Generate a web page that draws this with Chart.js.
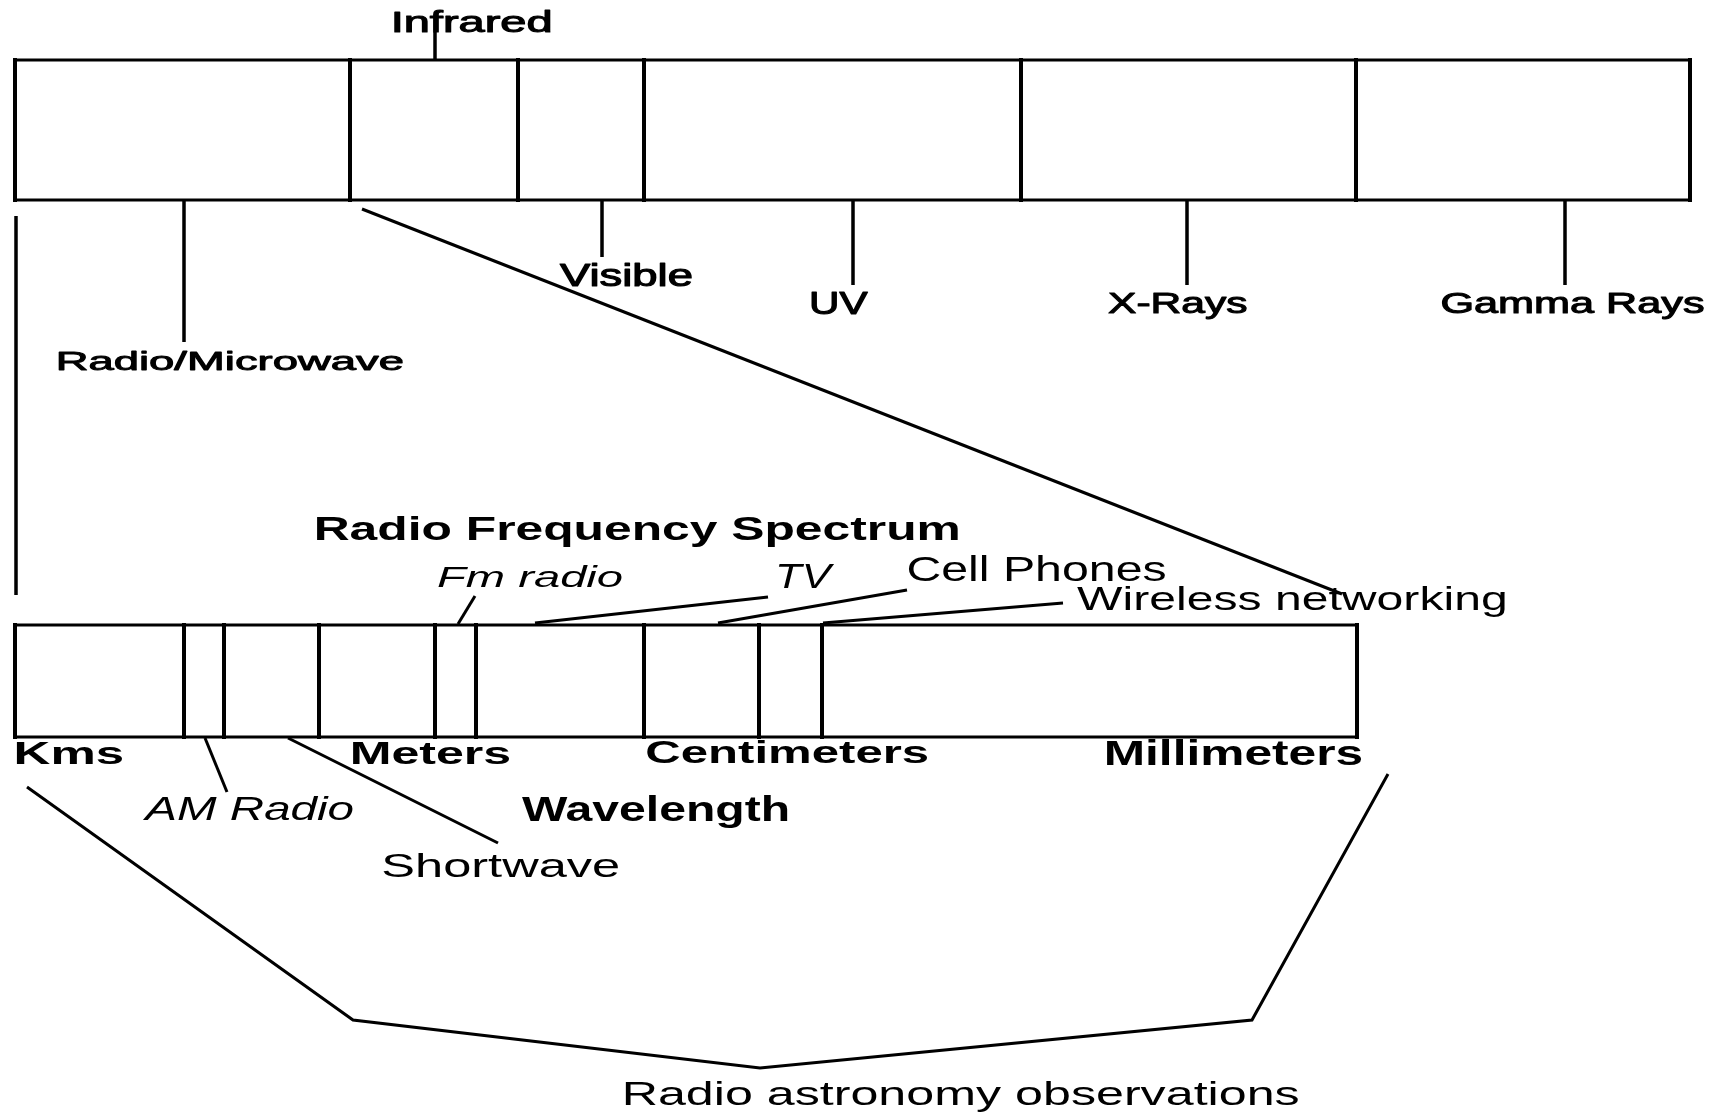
<!DOCTYPE html>
<html>
<head>
<meta charset="utf-8">
<script src="https://cdn.jsdelivr.net/npm/chart.js@4"></script>
<style>
html,body{margin:0;padding:0;background:#fff;}
#wrap{width:1718px;height:1118px;}
</style>
</head>
<body>
<div id="wrap"><canvas id="c" width="1718" height="1118"></canvas></div>
<script>
// ---------------- data (diagram units on a 1718 x 1118 plane) ----------------
// Electromagnetic spectrum bar
const emBands      = ['Radio/Microwave', 'Infrared', 'Visible', 'UV', 'X-Rays', 'Gamma Rays'];
const emEdges      = [15, 350, 518, 644, 1021, 1356, 1690];
const emBar        = [60, 200];                     // top, bottom of the bar
const emLeaderX    = [184, 435, 602, 853, 1187, 1565];
const emLeaderEnd  = [342, 32, 257, 285, 285, 285];

// Radio frequency spectrum bar
const radioEdges   = [15, 184, 224, 319, 435, 476, 644, 759, 822, 1357];
const radioBar     = [625, 737];
const wavelengthUnits = ['Kms', 'Meters', 'Centimeters', 'Millimeters'];
const radioUses       = ['AM Radio', 'Shortwave', 'Fm radio', 'TV', 'Cell Phones', 'Wireless networking'];
const radioUseBandX   = [205, 288, 458, 535, 718, 823];
const radioUseBandY   = [738, 738, 624, 623, 623, 623];
const radioUseLabelX  = [227, 498, 475, 768, 907, 1063];
const radioUseLabelY  = [792, 843, 596, 597, 590, 603];

// zoom-out connectors and the radio astronomy bracket
const zoomDiagX  = [362, 1342];
const zoomDiagY  = [209, 594];
const zoomLeftX  = [16, 16];
const zoomLeftY  = [216, 595];
const observeX   = [27, 353, 760, 1252, 1388];
const observeY   = [787, 1020, 1068, 1020, 774];

const titles = ['Radio Frequency Spectrum', 'Wavelength', 'Radio astronomy observations'];

// ---------------- text layout (ink box: left, right, cap top, baseline) ----------------
const labelLayout = [
  {text: emBands[1], l: 394,  r: 550,  top: 12,   base: 32,   style: 'med'},
  {text: emBands[2], l: 560,  r: 692,  top: 265,  base: 286,  style: 'med'},
  {text: emBands[3], l: 812,  r: 868,  top: 293,  base: 314,  style: 'med'},
  {text: emBands[4], l: 1108, r: 1246, top: 293,  base: 313,  style: 'med'},
  {text: emBands[5], l: 1442, r: 1703, top: 293,  base: 313,  style: 'med'},
  {text: emBands[0], l: 59,   r: 403,  top: 352,  base: 370,  style: 'med'},
  {text: titles[0],  l: 317,  r: 958,  top: 518,  base: 540,  style: 'bold'},
  {text: radioUses[2], l: 437, r: 622, top: 567,  base: 587,  style: 'ital'},
  {text: radioUses[3], l: 778, r: 835, top: 565,  base: 588,  style: 'ital'},
  {text: radioUses[4], l: 908, r: 1165, top: 558, base: 581,  style: 'reg'},
  {text: radioUses[5], l: 1077, r: 1505, top: 588, base: 610, style: 'reg'},
  {text: wavelengthUnits[0], l: 17,   r: 123,  top: 743, base: 764, style: 'bold'},
  {text: wavelengthUnits[1], l: 353,  r: 510,  top: 743, base: 764, style: 'bold'},
  {text: wavelengthUnits[2], l: 647,  r: 928,  top: 742, base: 763, style: 'bold'},
  {text: wavelengthUnits[3], l: 1107, r: 1362, top: 742, base: 765, style: 'bold'},
  {text: radioUses[0], l: 142, r: 353, top: 798, base: 820, style: 'ital'},
  {text: titles[1],  l: 522,  r: 788,  top: 798,  base: 821,  style: 'bold'},
  {text: radioUses[1], l: 383, r: 619, top: 855, base: 877, style: 'reg'},
  {text: titles[2],  l: 625,  r: 1298, top: 1083, base: 1105, style: 'reg'}
];

const textStyles = {
  med:  {font: '28px "Liberation Sans", Arial, sans-serif', stroke: 1.0},
  reg:  {font: '30px "Liberation Sans", Arial, sans-serif', stroke: 0},
  ital: {font: 'italic 30px "Liberation Sans", Arial, sans-serif', stroke: 0},
  bold: {font: 'bold 30px "Liberation Sans", Arial, sans-serif', stroke: 0}
};

// ---------------- build line datasets from the arrays ----------------
const datasets = [];
function seg(xs, ys, width, cap) {
  datasets.push({
    data: xs.map((x, i) => ({x: x, y: ys[i]})),
    showLine: true,
    pointRadius: 0,
    pointHoverRadius: 0,
    borderColor: '#000',
    backgroundColor: '#000',
    borderWidth: width,
    borderCapStyle: cap || 'butt',
    borderJoinStyle: 'miter',
    tension: 0,
    fill: false,
    clip: false
  });
}
function bar(edges, rows) {
  const x0 = edges[0], x1 = edges[edges.length - 1];
  seg([x0, x1], [rows[0], rows[0]], 3, 'square');
  seg([x0, x1], [rows[1], rows[1]], 3, 'square');
  edges.forEach(e => seg([e, e], [rows[0], rows[1]], 4, 'square'));
}
bar(emEdges, emBar);
bar(radioEdges, radioBar);
emLeaderX.forEach((x, i) => {
  const from = emLeaderEnd[i] < emBar[0] ? emBar[0] : emBar[1];
  seg([x, x], [from, emLeaderEnd[i]], 3.5);
});
radioUses.forEach((u, i) => seg([radioUseBandX[i], radioUseLabelX[i]], [radioUseBandY[i], radioUseLabelY[i]], 3));
seg(zoomDiagX, zoomDiagY, 3);
seg(zoomLeftX, zoomLeftY, 3.5);
seg(observeX, observeY, 3);

// ---------------- text plugin ----------------
const textPlugin = {
  id: 'diagramText',
  afterDatasetsDraw(chart) {
    const ctx = chart.ctx;
    const xs = chart.scales.x, ys = chart.scales.y;
    labelLayout.forEach(lb => {
      const st = textStyles[lb.style];
      ctx.save();
      ctx.font = st.font;
      ctx.textAlign = 'left';
      ctx.textBaseline = 'alphabetic';
      const m = ctx.measureText(lb.text);
      const cap = ctx.measureText('H').actualBoundingBoxAscent;
      const inkW = m.actualBoundingBoxLeft + m.actualBoundingBoxRight;
      const L = xs.getPixelForValue(lb.l), R = xs.getPixelForValue(lb.r);
      const T = ys.getPixelForValue(lb.top), B = ys.getPixelForValue(lb.base);
      const sx = (R - L) / inkW, sy = (B - T) / cap;
      ctx.translate(L + m.actualBoundingBoxLeft * sx, B);
      ctx.scale(sx, sy);
      ctx.fillStyle = '#000';
      ctx.fillText(lb.text, 0, 0);
      if (st.stroke) {
        ctx.strokeStyle = '#000';
        ctx.lineWidth = st.stroke;
        ctx.lineJoin = 'round';
        ctx.strokeText(lb.text, 0, 0);
      }
      ctx.restore();
    });
  }
};

new Chart(document.getElementById('c'), {
  type: 'scatter',
  data: {datasets: datasets},
  options: {
    responsive: false,
    animation: false,
    devicePixelRatio: 1,
    layout: {padding: 0},
    events: [],
    plugins: {legend: {display: false}, tooltip: {enabled: false}, title: {display: false}},
    scales: {
      x: {type: 'linear', min: 0, max: 1718, display: false},
      y: {type: 'linear', min: 0, max: 1118, reverse: true, display: false}
    }
  },
  plugins: [textPlugin]
});
</script>
</body>
</html>
